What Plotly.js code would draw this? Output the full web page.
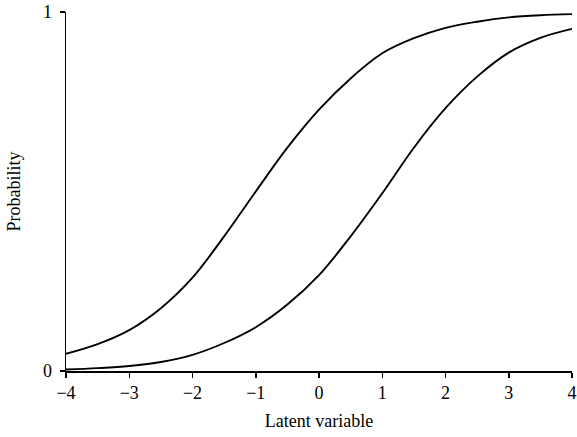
<!DOCTYPE html>
<html>
<head>
<meta charset="utf-8">
<script src="https://cdn.plot.ly/plotly-3.0.1.min.js"></script>
<style>html,body{margin:0;padding:0;background:#fff;}#chart{width:577px;height:437px;}</style>
</head>
<body>
<div id="chart"></div>
<script>
var latent = [-4, -3.5, -3, -2.5, -2, -1.5, -1, -0.5, 0, 0.5, 1, 1.5, 2, 2.5, 3, 3.5, 4];
var curveLeft = [0.048, 0.075, 0.114, 0.175, 0.26, 0.375, 0.5, 0.622, 0.728, 0.815, 0.885, 0.927, 0.956, 0.973, 0.985, 0.991, 0.994];
var curveRight = [0.004, 0.008, 0.014, 0.025, 0.045, 0.078, 0.122, 0.185, 0.267, 0.375, 0.495, 0.622, 0.732, 0.82, 0.887, 0.928, 0.953];
var xTicks = [-4, -3, -2, -1, 0, 1, 2, 3, 4];
var yTicks = [0, 1];

var font = {family: '"Liberation Serif", "DejaVu Serif", serif', size: 18, color: '#000'};
var traces = [
  {x: latent, y: curveLeft, mode: 'lines', line: {color: '#000', width: 1.9, shape: 'spline'}, hoverinfo: 'skip'},
  {x: latent, y: curveRight, mode: 'lines', line: {color: '#000', width: 1.9, shape: 'spline'}, hoverinfo: 'skip'}
];
var layout = {
  width: 577, height: 437,
  margin: {l: 66, r: 5, t: 12, b: 66},
  paper_bgcolor: '#fff', plot_bgcolor: '#fff',
  showlegend: false,
  font: font,
  xaxis: {
    range: [-4, 4], tickvals: xTicks, ticktext: xTicks.map(function(v){return v < 0 ? '\u2212' + Math.abs(v) : String(v);}),
    showgrid: false, zeroline: false, showline: true, linecolor: '#000', linewidth: 1.5,
    ticks: 'outside', ticklen: 5, tickwidth: 1.5, tickcolor: '#000',
    tickfont: font, ticklabeloverflow: 'allow',
    title: {text: 'Latent variable', font: font, standoff: 12}
  },
  yaxis: {
    range: [0, 1], tickvals: yTicks, ticktext: yTicks.map(String),
    showgrid: false, zeroline: false, showline: true, linecolor: '#000', linewidth: 1.5,
    ticks: 'outside', ticklen: 5, tickwidth: 1.5, tickcolor: '#000',
    tickfont: font, ticklabelstandoff: 4,
    title: {text: 'Probability', font: font, standoff: 17}
  }
};
Plotly.newPlot('chart', traces, layout, {displayModeBar: false, staticPlot: true});
</script>
</body>
</html>
